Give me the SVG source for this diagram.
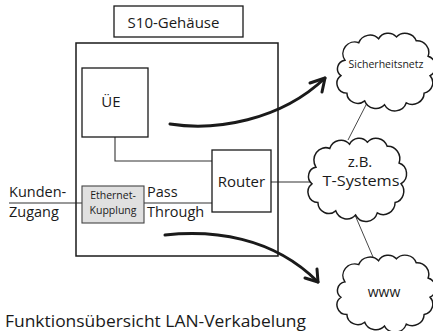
<svg xmlns="http://www.w3.org/2000/svg" xmlns:xlink="http://www.w3.org/1999/xlink" width="433" height="331" viewBox="0 0 433 331">
<style>
text{font-family:"Open Sans","DejaVu Sans",sans-serif;fill:#1a1a1a}
.box{fill:#fff;stroke:#1a1a1a;stroke-width:1.3}
.lbl{font-size:15px}
.side{font-size:14.5px}
.wire{fill:none;stroke:#333;stroke-width:1.1}
.thin{fill:none;stroke:#333;stroke-width:0.9}
.arrow{fill:none;stroke:#1a1a1a;stroke-width:3;stroke-linecap:round;stroke-linejoin:round}
.cloud{fill:#fff;stroke:#1a1a1a;stroke-width:1.5}
</style>
<defs>
<path id="cloudShape" d="M8,28 A12,12 0 0 1 22,10 A12,12 0 0 1 42,6 A11,11 0 0 1 60,4 A12,12 0 0 1 80,8 A12,12 0 0 1 92,24 A11,11 0 0 1 94,44 A11,11 0 0 1 88,62 A12,12 0 0 1 70,72 A12,12 0 0 1 48,74 A12,12 0 0 1 28,70 A11,11 0 0 1 10,62 A10,10 0 0 1 4,44 A9,9 0 0 1 8,28 Z"/>
</defs>

<g id="connectors">
<polyline class="wire" points="115,137 115,161 212,161"/>
<line class="wire" x1="9" y1="203" x2="82" y2="203"/>
<line class="wire" x1="144" y1="203" x2="212" y2="203"/>
<line class="wire" x1="271" y1="182" x2="310" y2="182"/>
<line class="thin" x1="367" y1="103" x2="348" y2="140"/>
<line class="thin" x1="355" y1="215" x2="373" y2="257"/>
</g>

<g id="s10-label">
<rect class="box" x="114" y="6" width="129" height="31"/>
<text class="lbl" x="173.5" y="28" text-anchor="middle">S10-Gehäuse</text>
</g>

<g id="s10-housing">
<rect x="76" y="43" width="202" height="213" fill="none" stroke="#1a1a1a" stroke-width="1.5"/>
</g>

<g id="ue">
<rect class="box" x="82" y="68" width="66" height="69"/>
<text class="lbl" x="111" y="107" text-anchor="middle">ÜE</text>
</g>

<g id="router">
<rect class="box" x="212" y="150" width="59" height="62"/>
<text class="lbl" x="241.5" y="187" text-anchor="middle">Router</text>
</g>

<g id="ethernet">
<rect x="82" y="186" width="62" height="37" fill="#e0e0e0" stroke="#444" stroke-width="1.1"/>
<text x="113" y="199" font-size="10.5" text-anchor="middle">Ethernet-</text>
<text x="113" y="214" font-size="10.5" text-anchor="middle">Kupplung</text>
</g>

<g id="kunden">
<text class="side" x="9" y="197">Kunden-</text>
<text class="side" x="9" y="217">Zugang</text>
</g>

<g id="pass">
<text class="side" x="147" y="197">Pass</text>
<text class="side" x="147" y="217">Through</text>
</g>

<g id="sicherheitsnetz">
<use xlink:href="#cloudShape" class="cloud" transform="translate(337,33) scale(0.99,0.97)"/>
<text x="386" y="68" font-size="10.5" text-anchor="middle">Sicherheitsnetz</text>
</g>

<g id="tsystems">
<use xlink:href="#cloudShape" class="cloud" transform="translate(308,138) scale(0.99,1.04)"/>
<text x="360" y="167" font-size="15" text-anchor="middle">z.B.</text>
<text x="361" y="186" font-size="15" text-anchor="middle" textLength="77" lengthAdjust="spacingAndGlyphs">T-Systems</text>
</g>

<g id="www">
<use xlink:href="#cloudShape" class="cloud" transform="translate(337,255) scale(0.99,0.96)"/>
<text x="384" y="297" font-size="14" text-anchor="middle">www</text>
</g>

<g id="arrows">
<path class="arrow" d="M170,124 C215,131 280,121 325,78"/>
<polyline class="arrow" points="310,83 325,78 322,92"/>
<path class="arrow" d="M165,235 C212,230 272,236 318,282"/>
<polyline class="arrow" points="305,278 318,282 317,269"/>
</g>

<g id="caption">
<text x="5" y="327" font-size="16.5" textLength="301" lengthAdjust="spacingAndGlyphs">Funktionsübersicht LAN-Verkabelung</text>
</g>
</svg>
